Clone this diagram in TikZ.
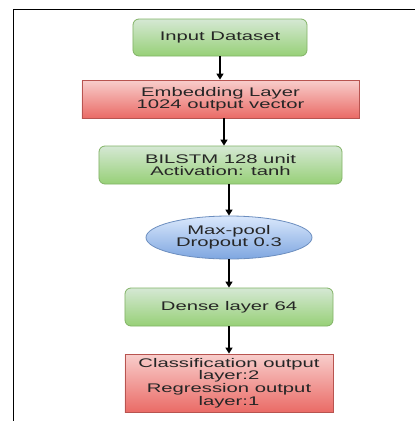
\documentclass[tikz,border=0pt]{standalone}
\usepackage{fontspec}
\setmainfont[FakeStretch=1.62]{Liberation Sans}
\usetikzlibrary{shapes.geometric,arrows.meta}
\definecolor{txt}{HTML}{262626}
\definecolor{gtop}{HTML}{D5E8D4}
\definecolor{gbot}{HTML}{97D077}
\definecolor{gline}{HTML}{82B366}
\definecolor{rtop}{HTML}{F8CECC}
\definecolor{rbot}{HTML}{EA6B66}
\definecolor{rline}{HTML}{B85450}
\definecolor{btop}{HTML}{DAE8FC}
\definecolor{bbot}{HTML}{7EA6E0}
\definecolor{bline}{HTML}{6C8EBF}
\tikzset{
  box/.style={draw, line width=0.8bp, inner sep=0pt, align=center, text=txt,
    font=\fontsize{12.5bp}{12bp}\selectfont},
  greenbox/.style={box, rectangle, rounded corners=6bp, draw=gline, top color=gtop, bottom color=gbot},
  redbox/.style={box, rectangle, draw=rline, top color=rtop, bottom color=rbot},
  bluebox/.style={box, ellipse, draw=bline, top color=btop, bottom color=bbot},
  arr/.style={line width=1.2bp, -{Triangle[width=7bp,length=6bp]}},
}
\begin{document}
\begin{tikzpicture}[x=1bp,y=-1bp]
\useasboundingbox (0,0) rectangle (415,421);
\fill[white] (0,0) rectangle (415,421);
\draw[line width=1bp] (415,9) -- (13,9) -- (13,421);
\node[greenbox, minimum width=174bp, minimum height=37bp] (in) at (220,37.5) {Input Dataset};
\node[redbox, minimum width=277bp, minimum height=38bp] (emb) at (220.5,99) {Embedding Layer\\1024 output vector};
\node[greenbox, minimum width=243bp, minimum height=38bp] (bil) at (220.5,165) {BILSTM 128 unit\\Activation: tanh};
\node[bluebox, minimum width=166bp, minimum height=43bp] (mp) at (229,237.5) {Max-pool\\Dropout 0.3};
\node[greenbox, minimum width=208bp, minimum height=38bp] (den) at (229,307) {Dense layer 64};
\node[redbox, minimum width=208bp, minimum height=58bp, font=\fontsize{12.5bp}{12.7bp}\selectfont] (out) at (229,383) {Classification output\\layer:2\\Regression output\\layer:1};
\draw[arr] (in.south) -- (emb.north -| in.south);
\draw[arr] ([xshift=3.5bp]emb.south) -- ([xshift=3.5bp]bil.north);
\draw[arr] (bil.south -| mp.north) -- (mp.north);
\draw[arr] (mp.south) -- (den.north);
\draw[arr] (den.south) -- (out.north);
\end{tikzpicture}
\end{document}
